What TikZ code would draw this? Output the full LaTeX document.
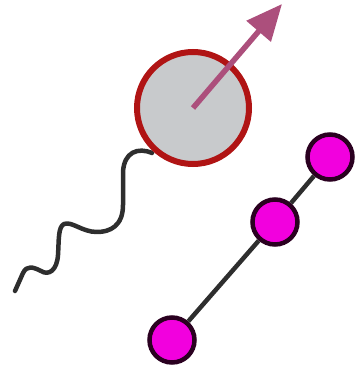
\documentclass[tikz,border=0pt]{standalone}
\usetikzlibrary{arrows.meta}
\definecolor{cellred}{HTML}{B01414}
\definecolor{cellgray}{HTML}{C8CACC}
\definecolor{mauve}{HTML}{AC4F7C}
\definecolor{beadfill}{HTML}{F200DE}
\definecolor{beadline}{HTML}{2A0020}
\definecolor{wire}{HTML}{2E2E2E}
\tikzset{
  cell/.style={circle, draw=cellred, line width=6pt, fill=cellgray, minimum size=112pt, inner sep=0pt},
  bead/.style={circle, draw=beadline, line width=4.5pt, fill=beadfill, minimum size=45pt, inner sep=0pt},
  wave/.style={draw=wire, line width=4.5pt, line cap=round, line join=round},
  link/.style={draw=wire, line width=4.5pt},
  spin/.style={draw=mauve, line width=5.5pt, -{Triangle[length=36pt,width=31pt]}}
}
\begin{document}
\begin{tikzpicture}[x=1pt,y=-1pt]
\useasboundingbox (0,0) rectangle (355,372);
% wave
\coordinate (w0) at (152,153);
\coordinate (w1) at (15,291);
\draw[wave] (w0) .. controls (138,147) and (124,152) .. (123,172)
  -- (123,205) .. controls (123,226) and (110,232) .. (97,232)
  .. controls (82,232) and (72,221) .. (64,224)
  .. controls (58,227) and (59,240) .. (58,255)
  .. controls (57,270) and (49,276) .. (41,271)
  .. controls (33,267) and (27,265) .. (23,273) -- (w1);
% cell
\node[cell] (c) at (193,108) {};
\coordinate (tip) at (282,4);
\draw[spin] (c.center) -- (tip);
% beads
\node[bead] (b1) at (172,340) {};
\node[bead] (b2) at (275,222) {};
\node[bead] (b3) at (330,157) {};
\draw[link] (b1) -- (b2);
\draw[link] (b2) -- (b3);
\end{tikzpicture}
\end{document}
